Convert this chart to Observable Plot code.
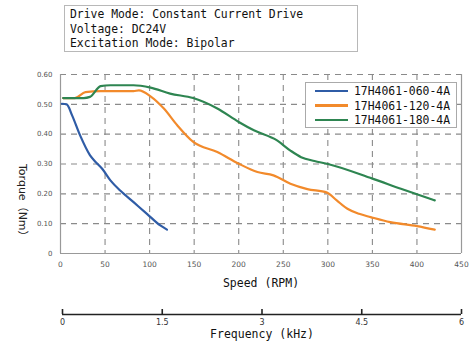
<!DOCTYPE html>
<html>
<head>
<meta charset="utf-8">
<script src="https://cdn.jsdelivr.net/npm/d3@7"></script>
<script src="https://cdn.jsdelivr.net/npm/@observablehq/plot@0.6"></script>
<style>
  html, body { margin: 0; padding: 0; background: #fff; }
  #wrap { position: relative; width: 474px; height: 355px; overflow: hidden; font-family: "DejaVu Sans Mono", monospace; }
  #wrap svg { position: absolute; left: 0; }
  #titlebox { position: absolute; left: 64px; top: 5px; width: 294px; height: 47px; border: 1px solid #b8b8b8; box-sizing: border-box; padding: 1px 0 0 5px; font-size: 11.4px; line-height: 14.7px; color: #111; white-space: pre; }
  #legend { position: absolute; left: 305px; top: 82px; width: 152px; height: 46px; border: 1px solid #aaa; box-sizing: border-box; background: #fff; font-size: 11.4px; color: #111; }
  .lrow { position: absolute; left: 9px; height: 14px; display: flex; align-items: center; white-space: pre; }
  .lrow span.sw { display: inline-block; width: 33px; height: 2.6px; margin-right: 6px; }
</style>
</head>
<body>
<div id="wrap"></div>
<script>
// ---- data ----
const seriesNames = ["17H4061-060-4A", "17H4061-120-4A", "17H4061-180-4A"];
const seriesColors = ["#2f5ca6", "#f28a2b", "#2e8551"];

const speed060  = [1.5, 7, 13, 22, 33, 40, 47, 56, 67, 82, 97, 112, 119.5];
const torque060 = [0.502, 0.500, 0.463, 0.396, 0.330, 0.305, 0.283, 0.245, 0.211, 0.172, 0.133, 0.094, 0.080];

const speed120  = [3, 16, 28, 45, 67, 82, 88, 101, 116, 131, 149, 176, 200, 221, 239, 258, 277, 299, 310, 322, 335, 348, 370, 400, 420];
const torque120 = [0.521, 0.521, 0.541, 0.544, 0.544, 0.544, 0.547, 0.527, 0.486, 0.430, 0.374, 0.340, 0.301, 0.273, 0.262, 0.234, 0.216, 0.204, 0.178, 0.150, 0.133, 0.122, 0.105, 0.092, 0.080];

const speed180  = [3, 26, 33, 45, 56, 82, 101, 123, 149, 176, 200, 217, 243, 258, 270, 285, 299, 350, 382, 420];
const torque180 = [0.521, 0.521, 0.525, 0.561, 0.564, 0.564, 0.556, 0.536, 0.521, 0.486, 0.441, 0.413, 0.379, 0.345, 0.323, 0.310, 0.301, 0.251, 0.217, 0.178];

const xTicks = [0, 50, 100, 150, 200, 250, 300, 350, 400, 450];
const yTicks = [0, 0.1, 0.2, 0.3, 0.4, 0.5, 0.6];
const freqTicks = [0, 1.5, 3, 4.5, 6];

const titleLines = ["Drive Mode: Constant Current Drive", "Voltage: DC24V", "Excitation Mode: Bipolar"];
const xLabel = "Speed (RPM)";
const yLabel = "Torque（Nm）";
const freqLabel = "Frequency (kHz)";

// ---- build table ----
const allSpeeds = [speed060, speed120, speed180];
const allTorques = [torque060, torque120, torque180];
const rows = [];
seriesNames.forEach((name, i) => {
  allSpeeds[i].forEach((s, j) => rows.push({series: name, speed: s, torque: allTorques[i][j]}));
});

const wrap = document.getElementById("wrap");
const gridColor = "#8a8a8a";

const main = Plot.plot({
  width: 474,
  height: 290,
  marginLeft: 60,
  marginRight: 13,
  marginTop: 74,
  marginBottom: 37,
  style: {background: "transparent", overflow: "visible"},
  x: {domain: [0, 450]},
  y: {domain: [0, 0.6]},
  color: {domain: seriesNames, range: seriesColors},
  marks: [
    Plot.ruleX(xTicks.filter(d => d > 0 && d < 450), {stroke: gridColor, strokeWidth: 1.1, strokeDasharray: "6,5"}),
    Plot.ruleY(yTicks.filter(d => d > 0), {stroke: gridColor, strokeWidth: 1.1, strokeDasharray: "6,5"}),
    Plot.ruleX([0, 450], {stroke: "#999", strokeWidth: 1.2}),
    Plot.ruleY([0], {stroke: "#999", strokeWidth: 1.2}),
    Plot.line(rows, {x: "speed", y: "torque", z: "series", stroke: "series", strokeWidth: 2.2, curve: "monotone-x"}),
    Plot.axisY({ticks: yTicks, tickSize: 0, tickPadding: 8, fontSize: 7, fill: "#555", fontFamily: "DejaVu Sans", tickFormat: d => d === 0 ? "0" : d.toFixed(2), label: null}),
    Plot.axisX({ticks: xTicks, tickSize: 0, tickPadding: 8, fontSize: 7.5, fill: "#555", fontFamily: "DejaVu Sans", tickFormat: d => String(d), label: null}),
    Plot.text([xLabel], {frameAnchor: "bottom", dy: 33, text: d => d, fontSize: 11.5, fontFamily: "DejaVu Sans Mono", fill: "#111"}),
    Plot.text([yLabel], {frameAnchor: "left", dx: -38, rotate: 90, text: d => d, fontSize: 11, fontFamily: "DejaVu Sans, Noto Sans CJK SC", fill: "#222"})
  ]
});
main.style.top = "0px";
wrap.appendChild(main);

const freq = Plot.plot({
  width: 474,
  height: 65,
  marginLeft: 62,
  marginRight: 13,
  marginTop: 15,
  marginBottom: 45,
  style: {background: "transparent", overflow: "visible"},
  x: {domain: [0, 6]},
  y: {domain: [0, 1], axis: null},
  marks: [
    Plot.ruleY([0], {stroke: "#222", strokeWidth: 1.3}),
    Plot.ruleX(freqTicks, {y1: 0, y2: 1, stroke: "#222", strokeWidth: 1.6}),
    Plot.axisX({ticks: freqTicks, tickSize: 0, tickPadding: 5, fontSize: 8, fill: "#333", fontFamily: "DejaVu Sans", tickFormat: d => String(d), label: null}),
    Plot.text([freqLabel], {frameAnchor: "bottom", dy: 23, text: d => d, fontSize: 11.5, fontFamily: "DejaVu Sans Mono", fill: "#111"})
  ]
});
freq.style.top = "294px";
wrap.appendChild(freq);

// title box
const tb = document.createElement("div");
tb.id = "titlebox";
tb.textContent = titleLines.join("\n");
wrap.appendChild(tb);

// legend
const lg = document.createElement("div");
lg.id = "legend";
seriesNames.forEach((name, i) => {
  const r = document.createElement("div");
  r.className = "lrow";
  r.style.top = (1 + i * 14.5) + "px";
  const sw = document.createElement("span");
  sw.className = "sw";
  sw.style.background = seriesColors[i];
  r.appendChild(sw);
  r.appendChild(document.createTextNode(name));
  lg.appendChild(r);
});
wrap.appendChild(lg);
</script>
</body>
</html>
